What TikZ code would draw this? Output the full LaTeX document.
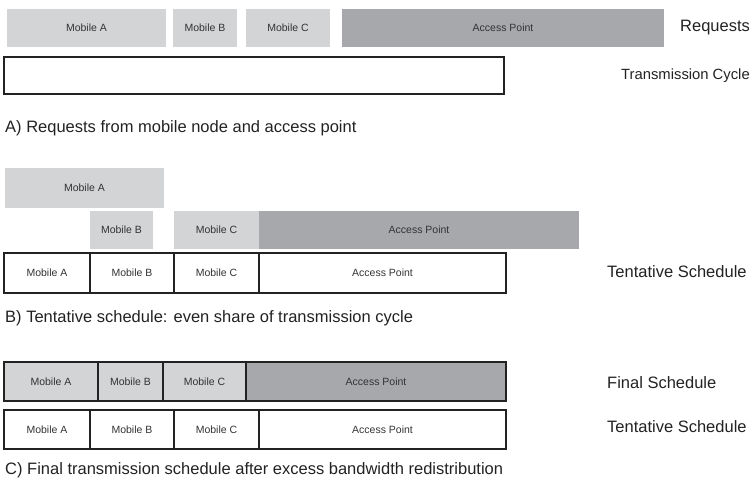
\documentclass[tikz,border=0pt]{standalone}
\usepackage{fontspec}
\setmainfont{Liberation Sans}
\definecolor{lightg}{HTML}{D3D4D6}
\definecolor{darkg}{HTML}{A6A8AB}
\definecolor{txt}{HTML}{333333}
\definecolor{edge}{HTML}{222222}
\begin{document}
\begin{tikzpicture}[x=1pt,y=-1pt,
  cell/.style={anchor=north west,inner sep=0pt,outer sep=0pt,text=txt,font=\fontsize{10.5}{12}\selectfont},
  req/.style={cell,fill=lightg},
  reqap/.style={cell,fill=darkg},
  slot/.style={cell,draw=edge,line width=1.2pt},
  lbl/.style={anchor=west,inner sep=0pt,text=edge,font=\fontsize{16.5}{19}\selectfont}]
\useasboundingbox (0,0) rectangle (754,490);
% Section A
\node[req,minimum width=159,minimum height=38] (rA) at (7,9) {Mobile A};
\node[req,minimum width=64,minimum height=38] (rB) at (173,9) {Mobile B};
\node[req,minimum width=84,minimum height=38] (rC) at (246,9) {Mobile C};
\node[reqap,minimum width=322,minimum height=38] (rAP) at (342,9) {Access Point};
\node[lbl] (lreq) at (680,28) {Requests};
\node[slot,minimum width=500,minimum height=37] (cyc) at (4,57) {};
\node[lbl,font=\fontsize{14.8}{17}\selectfont] (lcyc) at (621,76) {Transmission Cycle};
\node[lbl] (capA) at (5,128) {A) Requests from mobile node and access point};
% Section B
\node[req,minimum width=159,minimum height=40] (bA) at (5,168) {Mobile A};
\node[req,minimum width=63,minimum height=38] (bB) at (90,211) {Mobile B};
\node[req,minimum width=85,minimum height=38] (bC) at (174,211) {Mobile C};
\node[reqap,minimum width=320,minimum height=38] (bAP) at (259,211) {Access Point};
\node[slot,minimum width=86,minimum height=40] (tA) at (4,253) {Mobile A};
\node[slot,minimum width=84,minimum height=40] (tB) at (90,253) {Mobile B};
\node[slot,minimum width=85,minimum height=40] (tC) at (174,253) {Mobile C};
\node[slot,minimum width=247,minimum height=40] (tAP) at (259,253) {Access Point};
\node[lbl] (ltent) at (607,272) {Tentative Schedule};
\node[lbl] (capB) at (5,318) {B) Tentative schedule: even share of transmission cycle};
% Section C
\node[slot,fill=lightg,minimum width=94,minimum height=39] (fA) at (4,362) {Mobile A};
\node[slot,fill=lightg,minimum width=65,minimum height=39] (fB) at (98,362) {Mobile B};
\node[slot,fill=lightg,minimum width=83,minimum height=39] (fC) at (163,362) {Mobile C};
\node[slot,fill=darkg,minimum width=260,minimum height=39] (fAP) at (246,362) {Access Point};
\node[lbl] (lfin) at (607,383) {Final Schedule};
\node[slot,minimum width=86,minimum height=39] (sA) at (4,410) {Mobile A};
\node[slot,minimum width=84,minimum height=39] (sB) at (90,410) {Mobile B};
\node[slot,minimum width=85,minimum height=39] (sC) at (174,410) {Mobile C};
\node[slot,minimum width=247,minimum height=39] (sAP) at (259,410) {Access Point};
\node[lbl] (ltent2) at (607,427) {Tentative Schedule};
\node[lbl] (capC) at (5,470) {C) Final transmission schedule after excess bandwidth redistribution};
\end{tikzpicture}
\end{document}
